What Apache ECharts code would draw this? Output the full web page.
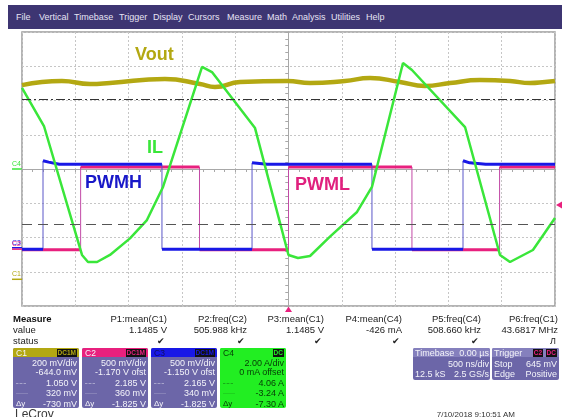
<!DOCTYPE html>
<html>
<head>
<meta charset="utf-8">
<title>LeCroy capture</title>
<script src="https://cdn.jsdelivr.net/npm/echarts@6.0.0/dist/echarts.min.js"></script>
<style>
  html, body { margin: 0; padding: 0; background: #fff; }
  #wrap { position: relative; width: 562px; height: 417px; overflow: hidden; font-family: "Liberation Sans", Arial, sans-serif; }
  #chart { position: absolute; left: 0; top: 0; width: 562px; height: 417px; }
  .t { position: absolute; white-space: nowrap; line-height: 12px; }
  .box { position: absolute; }
</style>
</head>
<body>
<div id="wrap"><div id="chart"></div></div>
<script>
// 500 ns/div, 10 div, trigger at 0 (µs)
const timeRange = [-2.5, 2.5]

// channel setup as shown on the scope: units per div and offset
const chScale = [0.2, 0.5, 0.5, 2.0]
const chOffset = [-0.644, -1.170, -1.150, 0]
const chColor = ['#b3a812', '#e8207e', '#1818e6', '#3ae63a']

// C1 Vout [µs, V]
const vout = [[-2.5, 1.134], [-2.125, 1.158], [-1.862, 1.140], [-1.675, 1.146], [-1.159, 1.170],
  [-0.830, 1.140], [-0.690, 1.123], [-0.455, 1.152], [-0.01, 1.158], [0.202, 1.146], [0.530, 1.158],
  [0.765, 1.175], [1.046, 1.152], [1.280, 1.129], [1.515, 1.146], [1.796, 1.163], [2.078, 1.158],
  [2.266, 1.146], [2.406, 1.152], [2.5, 1.158]]

// C2 PWML [µs, V]
const pwml = [[-2.5, -0.01], [-1.95, -0.01], [-1.95, 1.20], [-0.835, 1.20], [-0.835, -0.01],
  [0, -0.01], [0, 1.20], [1.158, 1.20], [1.158, -0.01], [1.98, -0.01], [1.98, 1.20], [2.5, 1.20]]

// C3 PWMH [µs, V]
const pwmh = [[-2.5, -0.02], [-2.303, -0.02], [-2.303, 1.27], [-2.25, 1.25], [-2.15, 1.22],
  [-1.187, 1.22], [-1.187, -0.02], [-0.342, -0.02], [-0.342, 1.24], [-0.2, 1.22], [0.783, 1.22],
  [0.783, -0.02], [1.637, -0.02], [1.637, 1.27], [1.70, 1.24], [1.85, 1.22], [2.5, 1.22]]

// C4 IL [µs, A]
const il = [[-2.5, 4.73], [-2.294, 2.51], [-1.937, -5.02], [-1.881, -5.43], [-1.796, -5.43],
  [-1.675, -5.02], [-1.487, -4.05], [-1.328, -2.98], [-1.177, -1.05], [-0.811, 5.96], [-0.718, 5.66],
  [-0.314, 2.39], [0.0, -5.02], [0.089, -5.20], [0.202, -5.08], [0.389, -3.95], [0.643, -2.51],
  [0.783, -1.05], [1.074, 6.19], [1.158, 5.78], [1.656, 2.45], [1.984, -5.02], [2.078, -5.43],
  [2.293, -4.73], [2.5, -2.86]]

// horizontal cursors on C1 (V) and trigger level on C2 (V)
const cursorsC1 = [1.050, 0.320]
const trigLevel = 0.645

// text content of the screen
const menuItems = ['File', 'Vertical', 'Timebase', 'Trigger', 'Display', 'Cursors', 'Measure', 'Math', 'Analysis', 'Utilities', 'Help']
const menuX = [16, 39, 74, 119, 153, 188, 227, 267, 292, 331, 366]
const measNames = ['P1:mean(C1)', 'P2:freq(C2)', 'P3:mean(C1)', 'P4:mean(C4)', 'P5:freq(C4)', 'P6:freq(C1)']
const measValues = ['1.1485 V', '505.988 kHz', '1.1485 V', '-426 mA', '508.660 kHz', '43.6817 MHz']
const measStatus = ['✔', '✔', '✔', '✔', '✔', 'Л']
const measRight = [167, 247, 324, 402, 481, 558]
const chNames = ['C1', 'C2', 'C3', 'C4']
const chCoupling = ['DC1M', 'DC1M', 'DC1M', 'DC']
const chScaleTxt = ['200 mV/div', '500 mV/div', '500 mV/div', '2.00 A/div']
const chOffsetTxt = ['-644.0 mV', '-1.170 V ofst', '-1.150 V ofst', '0 mA offset']
const chCursor1 = ['1.050 V', '2.185 V', '2.165 V', '4.06 A']
const chCursor2 = ['320 mV', '360 mV', '340 mV', '-3.24 A']
const chDelta = ['-730 mV', '-1.825 V', '-1.825 V', '-7.30 A']

const wrap = document.getElementById('wrap')

function put(text, x, y, o) {
  o = o || {}
  const el = document.createElement('div')
  el.className = 't'
  el.textContent = text
  el.style.top = (y - 6) + 'px'
  el.style.fontSize = (o.size || 9) + 'px'
  el.style.color = o.color || '#222'
  if (o.bold) el.style.fontWeight = 'bold'
  if (o.right) el.style.right = (562 - x) + 'px'
  else el.style.left = x + 'px'
  if (o.bg) { el.style.background = o.bg; el.style.padding = '0 1px'; el.style.lineHeight = '8px'; el.style.top = (y - 4) + 'px' }
  wrap.appendChild(el)
  return el
}
function box(x, y, w, h, bg, extra) {
  const el = document.createElement('div')
  el.className = 'box'
  el.style.cssText += `left:${x}px;top:${y}px;width:${w}px;height:${h}px;background:${bg};` + (extra || '')
  wrap.appendChild(el)
  return el
}

// ---- chart ----
const chart = echarts.init(document.getElementById('chart'), null, { renderer: 'canvas' })

function traceSeries(name, data, yIdx, color, edgeColor, width) {
  const flat = [], edges = []
  data.forEach((p, i) => {
    const q = data[i + 1]
    flat.push(p)
    if (q && q[0] === p[0]) {
      flat.push([p[0], '-'])
      edges.push(p, q, [p[0], '-'])
    }
  })
  return [
    { name: name + '_edge', type: 'line', yAxisIndex: yIdx, data: edges, symbol: 'none', silent: true,
      lineStyle: { color: edgeColor, width: 1 } },
    { name: name, type: 'line', yAxisIndex: yIdx, data: flat, symbol: 'none', silent: true,
      lineStyle: { color: color, width: width } }
  ]
}

const gridLine = { lineStyle: { color: '#c6c6c6', type: [2, 2], width: 1 } }
const centerAxis = (inside) => ({
  axisLabel: { show: false },
  axisLine: { show: true, onZero: true, onZeroAxisIndex: 0, lineStyle: { color: '#a8a8a8', width: 1 } },
  axisTick: { show: true, inside: inside, length: 3, lineStyle: { color: '#a8a8a8' } },
  minorTick: { show: true, splitNumber: 5, length: 3, lineStyle: { color: '#a8a8a8' } }
})

const chAxes = chScale.map((s, i) => ({
  type: 'value', show: false, min: -4 * s - chOffset[i], max: 4 * s - chOffset[i]
}))

chart.setOption({
  animation: false,
  grid: { left: 22, right: 7, top: 32, bottom: 111, show: true, borderColor: '#9c9c9c', borderWidth: 1.5 },
  xAxis: [
    Object.assign({ type: 'value', min: timeRange[0], max: timeRange[1], interval: 0.5, splitLine: gridLine }, centerAxis(false)),
    Object.assign({ type: 'value', min: timeRange[0], max: timeRange[1], interval: 0.5, splitLine: { show: false } }, centerAxis(true))
  ],
  yAxis: [
    Object.assign({ type: 'value', min: -4, max: 4, interval: 1, splitLine: gridLine }, centerAxis(false)),
    ...chAxes,
    Object.assign({ type: 'value', min: -4, max: 4, interval: 1, splitLine: { show: false } }, centerAxis(true))
  ],
  series: [
    { name: 'Vout', type: 'line', yAxisIndex: 1, data: vout, symbol: 'none', smooth: 0.5, silent: true,
      lineStyle: { color: chColor[0], width: 4.5 },
      markLine: {
        symbol: 'none', silent: true, label: { show: false },
        data: [
          { yAxis: cursorsC1[0], lineStyle: { color: '#333', width: 1, type: [9, 3, 2, 3] } },
          { yAxis: cursorsC1[1], lineStyle: { color: '#555', width: 1, type: [10, 6] } }
        ]
      } },
    ...traceSeries('PWML', pwml, 2, chColor[1], '#c24aa6', 3),
    ...traceSeries('PWMH', pwmh, 3, chColor[2], '#5a56c8', 3),
    { name: 'IL', type: 'line', yAxisIndex: 4, data: il, symbol: 'none', silent: true,
      lineStyle: { color: chColor[3], width: 2.5 } }
  ]
})

// ground markers and trigger markers from the axes
const xTrig = chart.convertToPixel({ xAxisIndex: 0 }, 0)
const yTrig = chart.convertToPixel({ yAxisIndex: 2 }, trigLevel)
const yGround = [0, 1, 2, 3].map(i => chart.convertToPixel({ yAxisIndex: i + 1 }, 0))
const markerOrder = [3, 0, 2, 1]
chart.setOption({
  graphic: [
    ...markerOrder.map(i => ({ type: 'line', shape: { x1: 12, y1: yGround[i], x2: 22, y2: yGround[i] },
      style: { stroke: chColor[i], lineWidth: 1.5 } })),
    { type: 'polygon', shape: { points: [[xTrig, 306.5], [xTrig - 3.5, 312], [xTrig + 3.5, 312]] }, style: { fill: chColor[1] } },
    { type: 'polygon', shape: { points: [[556, yTrig], [562, yTrig - 3.5], [562, yTrig + 3.5]] }, style: { fill: chColor[1] } }
  ]
})
markerOrder.forEach(i => put(chNames[i], 12, yGround[i] - 5, { size: 7, color: chColor[i] }))

// trace labels
put('Vout', 135, 54, { size: 18, bold: true, color: '#b3a812' })
put('IL', 147, 147, { size: 18, bold: true, color: '#3ae63a' })
put('PWMH', 85, 182, { size: 18, bold: true, color: '#1818c8' })
put('PWML', 295, 184, { size: 18, bold: true, color: '#e0207e' })

// ---- menu bar ----
box(8, 5, 554, 24, '#3d3572')
menuItems.forEach((m, i) => put(m, menuX[i], 17, { size: 9, color: '#e6e4f4' }))

// ---- measure table ----
put('Measure', 13, 319, { size: 9.5, bold: true, color: '#111' })
put('value', 13, 330, { size: 9.5, color: '#222' })
put('status', 13, 341, { size: 9.5, color: '#222' })
measNames.forEach((n, i) => {
  put(n, measRight[i], 319, { size: 9.5, right: true })
  put(measValues[i], measRight[i], 330, { size: 9.5, right: true })
  put(measStatus[i], measRight[i] - 2, 341, { size: 9, right: true })
})

// ---- channel panels ----
const panelX = [13, 82, 151, 220]
const rowY = [363, 371.5, 383, 393, 403.5]
const rowSym = ['', '', '-·-·-', '······', 'Δy']
chNames.forEach((n, i) => {
  const x = panelX[i]
  const green = i === 3
  box(x, 348, 66, 60, green ? '#22ee22' : '#6c66a8', 'border-radius:2px;')
  box(x, 348, 66, 9, chColor[i] === '#3ae63a' ? '#22ee22' : chColor[i], 'border-radius:2px 2px 0 0;')
  const fg = green ? '#063a06' : '#f4f4fa'
  put(n, x + 3, 352.5, { size: 8.5, color: green ? '#063a06' : (i === 2 ? '#101060' : '#f4f4fa') })
  put(chCoupling[i], x + 64, 352.5, { size: 6.5, bold: true, right: true, color: green ? '#22ee22' : chColor[i], bg: '#111' })
  const rows = [chScaleTxt[i], chOffsetTxt[i], chCursor1[i], chCursor2[i], chDelta[i]]
  rows.forEach((r, k) => {
    put(r, x + 64, rowY[k], { size: 9, right: true, color: fg })
    if (rowSym[k]) put(rowSym[k], x + 3, rowY[k], { size: k === 4 ? 8 : 6, color: fg })
  })
})

// ---- timebase / trigger ----
box(413, 348, 77, 32, '#6c66a8', 'border-radius:2px;')
box(413, 348, 77, 9, '#8580bd', 'border-radius:2px 2px 0 0;')
put('Timebase', 415, 353, { size: 9, color: '#f4f4fa' })
put('0.00 µs', 489, 353, { size: 9, right: true, color: '#f4f4fa' })
put('500 ns/div', 489, 363.5, { size: 9, right: true, color: '#f4f4fa' })
put('12.5 kS', 415, 373.5, { size: 9, color: '#f4f4fa' })
put('2.5 GS/s', 489, 373.5, { size: 9, right: true, color: '#f4f4fa' })

box(492, 348, 67, 32, '#6c66a8', 'border-radius:2px;')
box(492, 348, 67, 9, '#8580bd', 'border-radius:2px 2px 0 0;')
put('Trigger', 494, 353, { size: 9, color: '#f4f4fa' })
put('C2', 543, 352.5, { size: 6.5, bold: true, right: true, color: '#e8207e', bg: '#111' })
put('DC', 557, 352.5, { size: 6.5, bold: true, right: true, color: '#e8207e', bg: '#111' })
put('Stop', 494, 363.5, { size: 9, color: '#f4f4fa' })
put('645 mV', 557, 363.5, { size: 9, right: true, color: '#f4f4fa' })
put('Edge', 494, 373.5, { size: 9, color: '#f4f4fa' })
put('Positive', 557, 373.5, { size: 9, right: true, color: '#f4f4fa' })

// ---- footer ----
put('LeCroy', 15, 414, { size: 12, color: '#3a3a3a' })
put('7/10/2018 9:10:51 AM', 515, 415, { size: 8, right: true, color: '#333' })
</script>
</body>
</html>
